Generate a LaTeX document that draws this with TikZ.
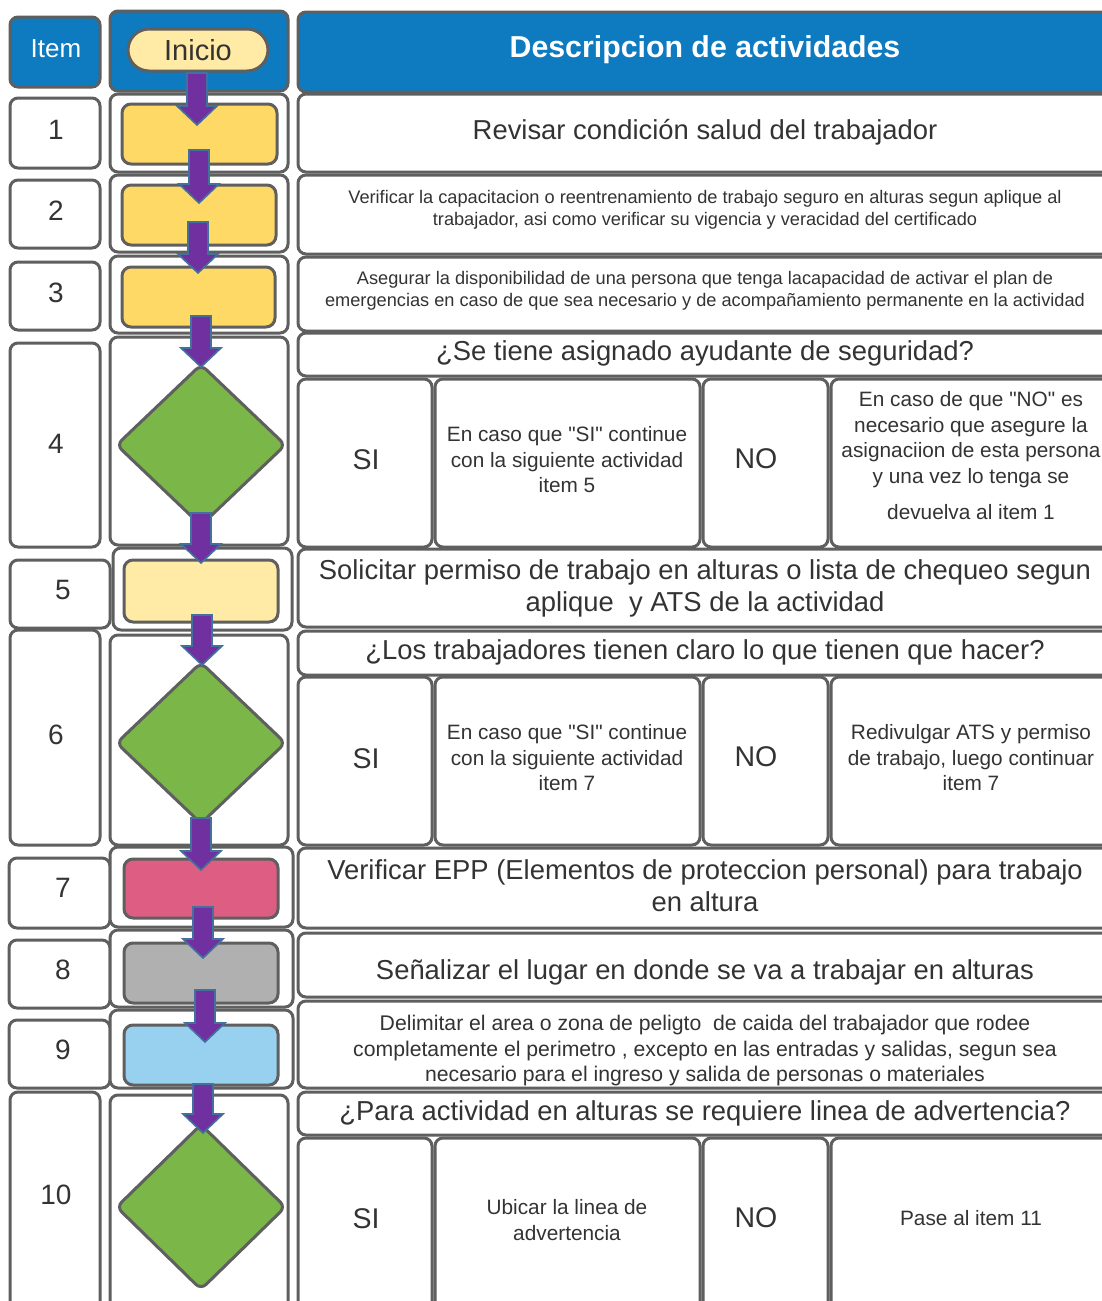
\documentclass[tikz,border=0pt]{standalone}
\usepackage{fontspec}
\setmainfont{Liberation Sans}[Ligatures=TeXOff]
\usetikzlibrary{shapes.geometric,shapes.misc,calc}
\definecolor{hdrblue}{RGB}{14,122,191}
\definecolor{bordc}{RGB}{95,95,95}
\definecolor{txtc}{RGB}{51,51,51}
\definecolor{yelA}{RGB}{255,217,102}
\definecolor{yelB}{RGB}{255,235,165}
\definecolor{dgreen}{RGB}{122,182,72}
\definecolor{pinkc}{RGB}{222,93,131}
\definecolor{grayc}{RGB}{176,176,176}
\definecolor{lblue}{RGB}{152,208,240}
\definecolor{purp}{RGB}{112,48,160}
\definecolor{arrline}{RGB}{65,113,156}
\newcommand\setfs[2]{\fontsize{#1}{#2}\selectfont}
\newcommand\mkbox[6]{%
  \pgfmathsetmacro\mybw{#5-#3}\pgfmathsetmacro\mybh{#6-#4}%
  \node[#2, minimum width=\mybw pt, minimum height=\mybh pt] (#1) at ({(#3+#5)/2},{(#4+#6)/2}) {};}
\newcommand\blockarrow[2]{%
  \draw[arrowstyle] ($(#1)+(-10,0)$) -- ($(#1)+(10,0)$) -- ($(#2)+(10,-19)$) -- ($(#2)+(20,-19)$) -- (#2) -- ($(#2)+(-20,-19)$) -- ($(#2)+(-10,-19)$) -- cycle;}
\tikzset{
  cellbox/.style={draw=bordc, line width=3pt, rounded corners=8pt, fill=white, inner sep=0pt},
  hdrbox/.style={cellbox, fill=hdrblue},
  stepbox/.style={cellbox, rounded corners=9pt},
  decbox/.style={diamond, draw=bordc, line width=3pt, fill=dgreen, rounded corners=7pt, inner sep=0pt, minimum width=170pt},
  arrowstyle/.style={fill=purp, draw=arrline, line width=1.6pt, line join=miter},
  txt/.style={text=txtc, align=center, inner sep=0pt},
  big/.style={txt, font=\setfs{27.4}{32}},
  small/.style={txt, font=\setfs{18.2}{22}},
  mid/.style={txt, font=\setfs{20.8}{25.5}},
  yn/.style={txt, font=\setfs{28.5}{32}},
  num/.style={txt, font=\setfs{28}{32}},
}
\begin{document}
\begin{tikzpicture}[x=1pt,y=-1pt]
\useasboundingbox (0,0) rectangle (1102,1301);
\fill[white] (0,0) rectangle (1102,1301);
\clip (0,0) rectangle (1102,1301);
% headers
\mkbox{ih}{hdrbox}{10}{17}{100}{87}
\mkbox{fh}{hdrbox}{110}{11}{288}{91}
\mkbox{dh}{hdrbox}{298}{12}{1112}{92}
\node[txt, text=white, font=\setfs{26}{30}] (tih) at (56,49) {Item};
\node[txt, text=white, font=\setfs{30.3}{34}\bfseries] (tdh) at (705,50) {Descripcion de actividades};
\node[rounded rectangle, draw=bordc, line width=3pt, fill=yelB, minimum width=140pt, minimum height=42pt, inner sep=0pt, text=txtc, font=\setfs{29}{32}] (inicio) at (198,50) {Inicio};
% row 1
\mkbox{i1}{cellbox}{10}{98}{100}{168}
\mkbox{f1}{cellbox}{110}{94}{288}{172}
\mkbox{d1}{cellbox}{298}{94}{1112}{172}
\mkbox{s1}{stepbox, fill=yelA}{122}{104}{277}{164}
% row 2
\mkbox{i2}{cellbox}{10}{180}{100}{248}
\mkbox{f2}{cellbox}{110}{175}{288}{252}
\mkbox{d2}{cellbox}{298}{175}{1112}{254}
\mkbox{s2}{stepbox, fill=yelA}{122}{185}{276}{245}
% row 3
\mkbox{i3}{cellbox}{10}{262}{100}{330}
\mkbox{f3}{cellbox}{110}{256}{288}{333}
\mkbox{d3}{cellbox}{298}{257}{1112}{331}
\mkbox{s3}{stepbox, fill=yelA}{122}{267}{275}{327}
% row 4
\mkbox{i4}{cellbox}{10}{343}{100}{547}
\mkbox{f4}{cellbox}{110}{337}{288}{545}
\mkbox{q4}{cellbox}{298}{333}{1112}{376}
\mkbox{a4}{cellbox}{298}{379}{432}{547}
\mkbox{b4}{cellbox}{435}{379}{700}{547}
\mkbox{c4}{cellbox}{703}{379}{828}{547}
\mkbox{e4}{cellbox}{831}{379}{1112}{547}
\node[decbox, minimum height=162pt] (dec4) at (201,445) {};
% row 5
\mkbox{i5}{cellbox}{10}{560}{110}{628}
\mkbox{f5}{cellbox}{113}{548}{292}{630}
\mkbox{d5}{cellbox}{298}{549}{1112}{627}
\mkbox{s5}{stepbox, fill=yelB}{124}{560}{278}{622}
% row 6
\mkbox{i6}{cellbox}{10}{630}{100}{845}
\mkbox{f6}{cellbox}{110}{635}{288}{845}
\mkbox{q6}{cellbox}{298}{631}{1112}{675}
\mkbox{a6}{cellbox}{298}{677}{432}{845}
\mkbox{b6}{cellbox}{435}{677}{700}{845}
\mkbox{c6}{cellbox}{703}{677}{828}{845}
\mkbox{e6}{cellbox}{831}{677}{1112}{845}
\node[decbox, minimum height=162pt] (dec6) at (201,743) {};
% row 7
\mkbox{i7}{cellbox}{9}{858}{110}{928}
\mkbox{f7}{cellbox}{110}{847}{293}{927}
\mkbox{d7}{cellbox}{298}{848}{1112}{928}
\mkbox{s7}{stepbox, fill=pinkc}{124}{859}{278}{918}
% row 8
\mkbox{i8}{cellbox}{9}{940}{110}{1008}
\mkbox{f8}{cellbox}{110}{930}{293}{1007}
\mkbox{d8}{cellbox}{298}{933}{1112}{997}
\mkbox{s8}{stepbox, fill=grayc}{124}{943}{278}{1003}
% row 9
\mkbox{i9}{cellbox}{9}{1020}{110}{1088}
\mkbox{f9}{cellbox}{110}{1010}{293}{1088}
\mkbox{d9}{cellbox}{298}{1001}{1112}{1088}
\mkbox{s9}{stepbox, fill=lblue}{124}{1025}{278}{1085}
% row 10
\mkbox{i10}{cellbox}{10}{1092}{100}{1330}
\mkbox{f10}{cellbox}{110}{1095}{288}{1330}
\mkbox{q10}{cellbox}{298}{1092}{1112}{1135}
\mkbox{a10}{cellbox}{298}{1138}{432}{1330}
\mkbox{b10}{cellbox}{435}{1138}{700}{1330}
\mkbox{c10}{cellbox}{703}{1138}{828}{1330}
\mkbox{e10}{cellbox}{831}{1138}{1112}{1330}
\node[decbox, minimum height=166pt] (dec10) at (201,1207) {};
% item numbers
\node[num] (n1) at (56,130) {1};
\node[num] (n2) at (56,211) {2};
\node[num] (n3) at (56,293) {3};
\node[num] (n4) at (56,444) {4};
\node[num] (n5) at (63,590) {5};
\node[num] (n6) at (56,735) {6};
\node[num] (n7) at (63,888) {7};
\node[num] (n8) at (63,970) {8};
\node[num] (n9) at (63,1050) {9};
\node[num] (n10) at (56,1195) {10};
% descriptions
\node[big] (t1) at (705,132) {Revisar condición salud del trabajador};
\node[small] (t2) at (705,210) {Verificar la capacitacion o reentrenamiento de trabajo seguro en alturas segun aplique al\\trabajador, asi como verificar su vigencia y veracidad del certificado};
\node[small] (t3) at (705,291) {Asegurar la disponibilidad de una persona que tenga lacapacidad de activar el plan de\\emergencias en caso de que sea necesario y de acompañamiento permanente en la actividad};
\node[big] (tq4) at (705,353) {¿Se tiene asignado ayudante de seguridad?};
\node[yn] (ta4) at (366,460) {SI};
\node[mid] (tb4) at (567,460) {En caso que "SI" continue\\con la siguiente actividad\\item 5};
\node[yn] (tc4) at (756,459) {NO};
\node[mid] (te4) at (971,456) {En caso de que "NO" es\\necesario que asegure la\\asignaciion de esta persona\\y una vez lo tenga se\\[11pt]devuelva al item 1};
\node[big] (t5) at (705,588) {Solicitar permiso de trabajo en alturas o lista de chequeo segun\\aplique\ \ y ATS de la actividad};
\node[big] (tq6) at (705,652) {¿Los trabajadores tienen claro lo que tienen que hacer?};
\node[yn] (ta6) at (366,759) {SI};
\node[mid] (tb6) at (567,758) {En caso que "SI" continue\\con la siguiente actividad\\item 7};
\node[yn] (tc6) at (756,757) {NO};
\node[mid] (te6) at (971,758) {Redivulgar ATS y permiso\\de trabajo, luego continuar\\item 7};
\node[big] (t7) at (705,886) {Verificar EPP (Elementos de proteccion personal) para trabajo\\en altura};
\node[big] (t8) at (705,972) {Señalizar el lugar en donde se va a trabajar en alturas};
\node[txt, font=\setfs{21.2}{25.5}] (t9) at (705,1051) {Delimitar el area o zona de peligto\ \ de caida del trabajador que rodee\\completamente el perimetro , excepto en las entradas y salidas, segun sea\\necesario para el ingreso y salida de personas o materiales};
\node[big] (tq10) at (705,1113) {¿Para actividad en alturas se requiere linea de advertencia?};
\node[yn] (ta10) at (366,1219) {SI};
\node[mid] (tb10) at (567,1220) {Ubicar la linea de\\advertencia};
\node[yn] (tc10) at (756,1218) {NO};
\node[mid] (te10) at (971,1218) {Pase al item 11};
% arrows
\coordinate (a1t) at (197,73);   \coordinate (a1h) at (197,125);
\coordinate (a2t) at (199,150);  \coordinate (a2h) at (199,203);
\coordinate (a3t) at (198,222);  \coordinate (a3h) at (198,273);
\coordinate (a4t) at (201,316);  \coordinate (a4h) at (201,367);
\coordinate (a5t) at (201,513);  \coordinate (a5h) at (201,563);
\coordinate (a6t) at (202,615);  \coordinate (a6h) at (202,665);
\coordinate (a7t) at (201,818);  \coordinate (a7h) at (201,870);
\coordinate (a8t) at (203,907);  \coordinate (a8h) at (203,958);
\coordinate (a9t) at (205,990);  \coordinate (a9h) at (205,1042);
\coordinate (a10t) at (203,1084); \coordinate (a10h) at (203,1133);
\blockarrow{a1t}{a1h}
\blockarrow{a2t}{a2h}
\blockarrow{a3t}{a3h}
\blockarrow{a4t}{a4h}
\blockarrow{a5t}{a5h}
\blockarrow{a6t}{a6h}
\blockarrow{a7t}{a7h}
\blockarrow{a8t}{a8h}
\blockarrow{a9t}{a9h}
\blockarrow{a10t}{a10h}
\end{tikzpicture}
\end{document}
